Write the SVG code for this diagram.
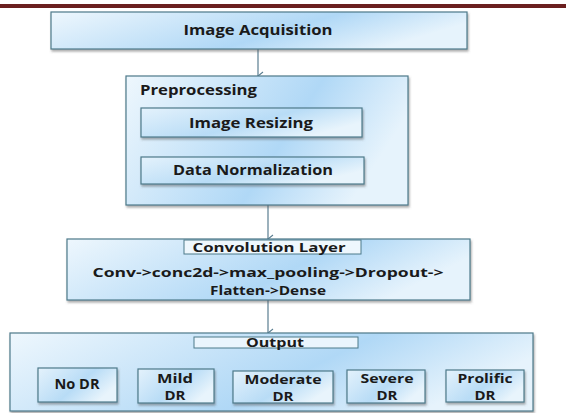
<svg xmlns="http://www.w3.org/2000/svg" width="569" height="413" viewBox="0 0 569 413">
<style>
.box{fill:url(#g);stroke:#4d7a8a;stroke-width:1.2;filter:url(#sh)}
.sub{fill:url(#g2);stroke:#4d7a8a;stroke-width:1.2;filter:url(#sh)}
text{font-family:"Open Sans","Liberation Sans",sans-serif;font-weight:bold;fill:#1a1a1a;text-anchor:middle}
.conn{stroke:#5a7d90;stroke-width:1.2;fill:none;marker-end:url(#ah)}
.lbl{font-size:12.5px}
</style>
<defs>
<linearGradient id="g" x1="0" y1="0" x2="1" y2="0.3">
<stop offset="0" stop-color="#eef7fd"/>
<stop offset="0.65" stop-color="#b0d8f6"/>
<stop offset="1" stop-color="#e6f3fc"/>
</linearGradient>
<linearGradient id="g2" x1="0" y1="0" x2="1" y2="0.5">
<stop offset="0" stop-color="#e4f2fc"/>
<stop offset="0.6" stop-color="#b8dcf6"/>
<stop offset="1" stop-color="#e8f4fc"/>
</linearGradient>
<filter id="sh" x="-5%" y="-10%" width="112%" height="130%">
<feDropShadow dx="1" dy="2" stdDeviation="1" flood-color="#555" flood-opacity="0.5"/>
</filter>
<marker id="ah" markerWidth="10" markerHeight="10" refX="5" refY="8" orient="auto" markerUnits="userSpaceOnUse" viewBox="0 0 10 10">
<path d="M1,3 L5,8 L9,3" fill="none" stroke="#5a7d90" stroke-width="1.1"/>
</marker>
</defs>
<rect x="0" y="4" width="566" height="4" fill="#6b1f1f"/>
<g id="connectors">
<line class="conn" x1="258" y1="49" x2="258" y2="76"/>
<line class="conn" x1="268" y1="205" x2="268" y2="239"/>
<line class="conn" x1="268" y1="300" x2="268" y2="333"/>
</g>
<g id="image-acquisition">
<rect class="box" x="51" y="12" width="416" height="37"/>
<text x="258" y="35" font-size="15" textLength="149" lengthAdjust="spacingAndGlyphs">Image Acquisition</text>
</g>
<g id="preprocessing">
<rect class="box" x="126" y="76" width="282" height="129"/>
<text x="140" y="95" font-size="15" style="text-anchor:start" textLength="117" lengthAdjust="spacingAndGlyphs">Preprocessing</text>
</g>
<g id="image-resizing">
<rect class="sub" x="141" y="108" width="221" height="29"/>
<text x="251" y="128" font-size="15" textLength="124" lengthAdjust="spacingAndGlyphs">Image Resizing</text>
</g>
<g id="data-normalization">
<rect class="sub" x="141" y="157" width="223" height="27"/>
<text x="253" y="175" font-size="15" textLength="160" lengthAdjust="spacingAndGlyphs">Data Normalization</text>
</g>
<g id="convolution">
<rect class="box" x="67" y="239" width="403" height="61"/>
<rect x="184" y="240" width="177" height="14" fill="#eef7fd" stroke="#4d7a8a" stroke-width="1"/>
<text x="269" y="252" font-size="13" textLength="153" lengthAdjust="spacingAndGlyphs">Convolution Layer</text>
<text x="268" y="277" font-size="13" textLength="351" lengthAdjust="spacingAndGlyphs">Conv-&gt;conc2d-&gt;max_pooling-&gt;Dropout-&gt;</text>
<text x="268" y="295" font-size="13" textLength="116" lengthAdjust="spacingAndGlyphs">Flatten-&gt;Dense</text>
</g>
<g id="output">
<rect class="box" x="10" y="333" width="523" height="78"/>
<rect x="194" y="337" width="164" height="11" fill="#eaf5fd" stroke="#4d7a8a" stroke-width="1"/>
<text x="275" y="347" font-size="13" textLength="58" lengthAdjust="spacingAndGlyphs">Output</text>
</g>
<g id="no-dr">
<rect class="sub" x="38" y="368" width="79" height="34"/>
<text x="77" y="389" font-size="13.5" textLength="45" lengthAdjust="spacingAndGlyphs">No DR</text>
</g>
<g id="mild-dr">
<rect class="sub" x="138" y="369" width="76" height="34"/>
<text class="lbl" x="175" y="383" textLength="36" lengthAdjust="spacingAndGlyphs">Mild</text>
<text class="lbl" x="175" y="400" textLength="21" lengthAdjust="spacingAndGlyphs">DR</text>
</g>
<g id="moderate-dr">
<rect class="sub" x="233" y="371" width="100" height="32"/>
<text class="lbl" x="283" y="384" textLength="77" lengthAdjust="spacingAndGlyphs">Moderate</text>
<text class="lbl" x="283" y="401" textLength="21" lengthAdjust="spacingAndGlyphs">DR</text>
</g>
<g id="severe-dr">
<rect class="sub" x="347" y="370" width="78" height="33"/>
<text class="lbl" x="387" y="383" textLength="53" lengthAdjust="spacingAndGlyphs">Severe</text>
<text class="lbl" x="387" y="400" textLength="21" lengthAdjust="spacingAndGlyphs">DR</text>
</g>
<g id="prolific-dr">
<rect class="sub" x="446" y="370" width="78" height="32"/>
<text class="lbl" x="485" y="383" textLength="55" lengthAdjust="spacingAndGlyphs">Prolific</text>
<text class="lbl" x="485" y="400" textLength="21" lengthAdjust="spacingAndGlyphs">DR</text>
</g>
</svg>
